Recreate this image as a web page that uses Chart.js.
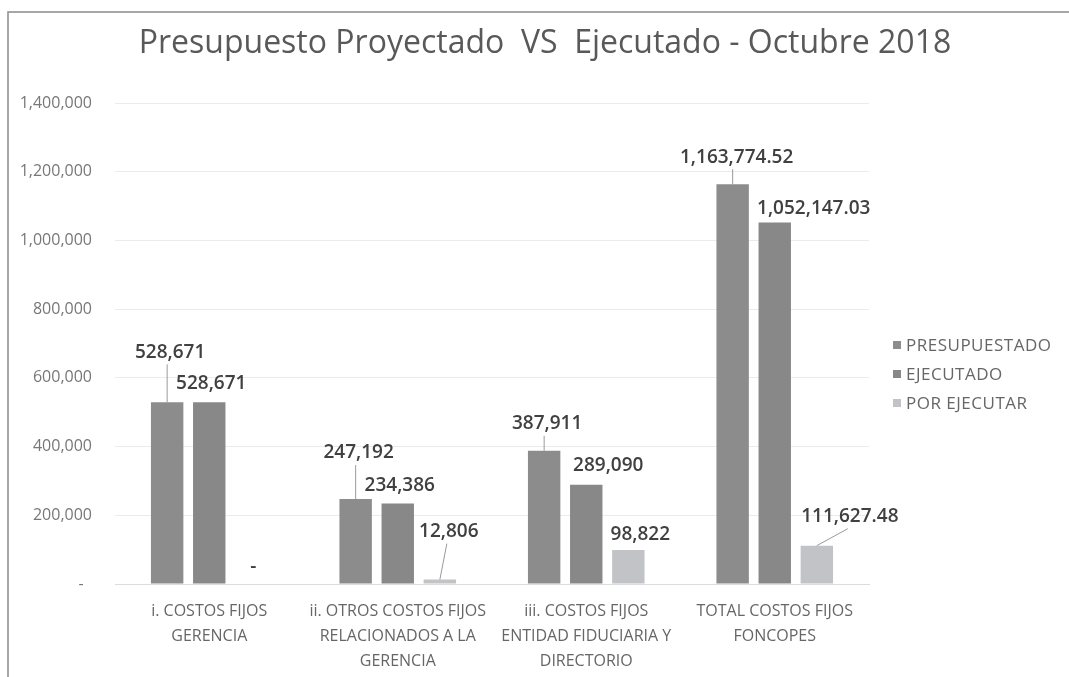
<!DOCTYPE html>
<html>
<head>
<meta charset="utf-8">
<script src="https://cdn.jsdelivr.net/npm/chart.js@4/dist/chart.umd.min.js"></script>
<style>
  body { margin: 0; background: #fff; }
  #wrap { position: relative; width: 1069px; height: 677px; }
</style>
</head>
<body>
<div id="wrap"><canvas id="graph" width="1069" height="677"></canvas></div>
<script>
const categories = [
  ["i. COSTOS FIJOS", "GERENCIA"],
  ["ii. OTROS COSTOS FIJOS", "RELACIONADOS A LA", "GERENCIA"],
  ["iii. COSTOS FIJOS", "ENTIDAD FIDUCIARIA Y", "DIRECTORIO"],
  ["TOTAL COSTOS FIJOS", "FONCOPES"],
];
const presupuestado = [528671, 247192, 387911, 1163774.52];
const ejecutado = [528671, 234386, 289090, 1052147.03];
const porEjecutar = [0, 12806, 98822, 111627.48];
const yTicks = [0, 200000, 400000, 600000, 800000, 1000000, 1200000, 1400000];

// where each value label sits, relative to the top centre of its bar
const labelOffsets = [
  [[3, -50], [3, -46], [3, -27], [4, -27]],
  [[2, -19], [2, -18], [22, -19], [39, -14]],
  [[2, -17], [9, -48], [12, -15], [33, -29]],
];
const leaders = [
  [true, true, true, true],
  [false, false, false, false],
  [false, true, false, true],
];

function fmt(v) {
  if (v === 0) return "-";
  if (Number.isInteger(v)) return v.toLocaleString("en-US");
  return v.toLocaleString("en-US", { minimumFractionDigits: 2, maximumFractionDigits: 2 });
}

const frameAndText = {
  id: "frameAndText",
  beforeDraw(chart) {
    const ctx = chart.ctx;
    ctx.save();
    ctx.strokeStyle = "#8a8a8a";
    ctx.lineWidth = 1.5;
    ctx.beginPath();
    ctx.moveTo(8, 677);
    ctx.lineTo(8, 12);
    ctx.lineTo(1069, 12);
    ctx.stroke();
    ctx.restore();
  },
  afterDraw(chart) {
    const ctx = chart.ctx;
    ctx.save();
    // title
    ctx.fillStyle = "#595959";
    ctx.font = "32px 'Open Sans'";
    ctx.textAlign = "center";
    ctx.textBaseline = "middle";
    ctx.fillText("Presupuesto Proyectado  VS  Ejecutado - Octubre 2018", 545, 44);

    // value labels
    ctx.font = "600 19px 'Open Sans'";
    chart.data.datasets.forEach((ds, i) => {
      const meta = chart.getDatasetMeta(i);
      meta.data.forEach((bar, j) => {
        const [dx, dy] = labelOffsets[i][j];
        const lx = bar.x + dx, ly = bar.y + dy;
        if (leaders[i][j]) {
          ctx.strokeStyle = "#9a9a9a";
          ctx.lineWidth = 1;
          ctx.beginPath();
          ctx.moveTo(bar.x, bar.y);
          ctx.lineTo(dx > 8 ? bar.x + dx - 2 : bar.x, ly + 12);
          ctx.stroke();
        }
        ctx.fillStyle = "#404040";
        ctx.fillText(fmt(ds.data[j]), lx, ly);
      });
    });

    // legend
    ctx.font = "17px 'Open Sans'";
    ctx.letterSpacing = "0.5px";
    ctx.textAlign = "left";
    chart.data.datasets.forEach((ds, i) => {
      const y = 345 + i * 29;
      ctx.fillStyle = ds.backgroundColor;
      ctx.fillRect(893, y - 4, 8, 8);
      ctx.fillStyle = "#666";
      ctx.fillText(ds.label, 906, y + 1);
    });
    ctx.restore();
  },
};

new Chart(document.getElementById("graph"), {
  type: "bar",
  data: {
    labels: categories,
    datasets: [
      { label: "PRESUPUESTADO", data: presupuestado, backgroundColor: "#8c8c8c" },
      { label: "EJECUTADO", data: ejecutado, backgroundColor: "#888888" },
      { label: "POR EJECUTAR", data: porEjecutar, backgroundColor: "#c1c3c6" },
    ],
  },
  options: {
    responsive: false,
    animation: false,
    layout: { padding: { top: 103, right: 200, left: 0, bottom: 0 } },
    datasets: { bar: { categoryPercentage: 0.67, barPercentage: 0.77 } },
    plugins: { legend: { display: false }, title: { display: false }, tooltip: { enabled: false } },
    scales: {
      x: {
        afterFit(s) { s.height = 93; },
        grid: { display: false },
        border: { display: true, color: "#dcdcdc" },
        ticks: {
          padding: 7,
          color: "#666",
          font: { family: "'Open Sans'", size: 16, lineHeight: 1.55 },
          maxRotation: 0,
          autoSkip: false,
        },
      },
      y: {
        min: 0,
        max: 1400000,
        afterFit(s) { s.width = 115; },
        afterBuildTicks(s) { s.ticks = yTicks.map(v => ({ value: v })); },
        grid: { color: "#ebebeb", drawTicks: false },
        border: { display: false },
        ticks: {
          padding: 23,
          color: "#777",
          font: { family: "'Open Sans'", size: 16 },
          callback: v => (v === 0 ? "-  " : v.toLocaleString("en-US")),
        },
      },
    },
  },
  plugins: [frameAndText],
});
</script>
</body>
</html>
